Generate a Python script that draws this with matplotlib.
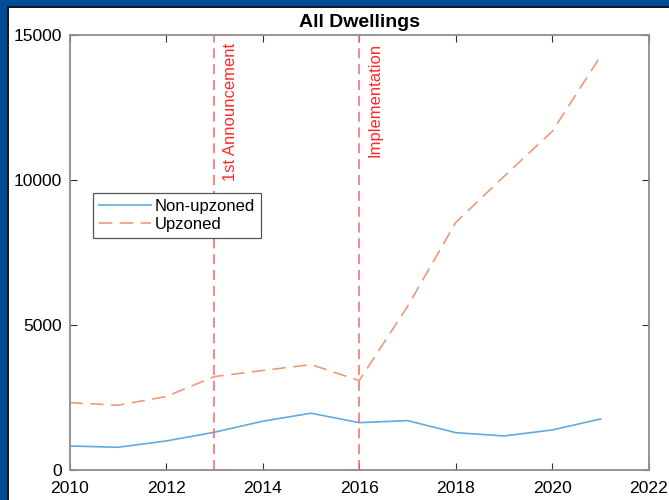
import matplotlib.pyplot as plt
from matplotlib.patches import Rectangle
from matplotlib.transforms import blended_transform_factory

plt.rcParams['font.family'] = ['Liberation Sans', 'DejaVu Sans']

years = [2010, 2011, 2012, 2013, 2014, 2015, 2016, 2017, 2018, 2019, 2020, 2021]
non_upzoned = [812, 767, 985, 1286, 1666, 1943, 1618, 1687, 1272, 1158, 1365, 1745]
upzoned = [2309, 2219, 2517, 3208, 3416, 3623, 3070, 5627, 8531, 10120, 11677, 14270]

events = [2013, 2016]
event_labels = ['1st Announcement', 'Implementation']

fig = plt.figure(figsize=(6.69, 5), dpi=100)
ax = fig.add_axes([0.1039, 0.061, 0.8661, 0.869])

# dark blue frame on left and top
fig.patches.append(Rectangle((0, 0), 7 / 669, 1, transform=fig.transFigure,
                             facecolor='#004b96', edgecolor='none', zorder=0))
fig.patches.append(Rectangle((0, 1 - 6 / 500), 1, 6 / 500, transform=fig.transFigure,
                             facecolor='#004b96', edgecolor='none', zorder=0))
fig.patches.append(Rectangle((7 / 669, 0), 1.5 / 669, 1 - 6 / 500, transform=fig.transFigure,
                             facecolor='#0a1830', edgecolor='none', zorder=0))
fig.patches.append(Rectangle((7 / 669, 1 - 7.5 / 500), 1, 1.5 / 500, transform=fig.transFigure,
                             facecolor='#0a1830', edgecolor='none', zorder=0))

ax.plot(years, non_upzoned, color='#62abde', lw=1.2, label='Non-upzoned')
ax.plot(years, upzoned, color='#eb9a78', lw=1.2, dashes=(8, 4.5), label='Upzoned')

trans = blended_transform_factory(ax.transData, ax.transAxes)
for x, lab in zip(events, event_labels):
    ax.axvline(x, color='#ff7070', lw=1.2, dashes=(6, 3.5))
    ax.text(x + 0.33, 0.982, lab, transform=trans, rotation=90, ha='center', va='top',
            color='#ff2a2a', fontsize=12)

ax.set_xlim(2010, 2022)
ax.set_ylim(0, 15000)
ax.set_xticks(range(2010, 2023, 2))
ax.set_yticks([0, 5000, 10000, 15000])
ax.tick_params(direction='in', length=5, width=0.8, color='#333333', labelsize=12.6,
               top=True, right=True)
ax.tick_params(axis='x', pad=8)
ax.tick_params(axis='y', pad=5.5)
for s in ax.spines.values():
    s.set_color('#8c8c8c')
    s.set_linewidth(1.3)

ax.set_title('All Dwellings', fontsize=14, fontweight='bold', pad=6)

leg = ax.legend(loc='upper left', bbox_to_anchor=(0.0406, 0.636), borderaxespad=0,
                fontsize=12, handlelength=3.1, handletextpad=0.25, fancybox=False,
                borderpad=0.35, labelspacing=0.2, framealpha=1)
leg.get_frame().set_edgecolor('#555555')
leg.get_frame().set_linewidth(0.9)

fig.savefig('out.png', dpi=100)
